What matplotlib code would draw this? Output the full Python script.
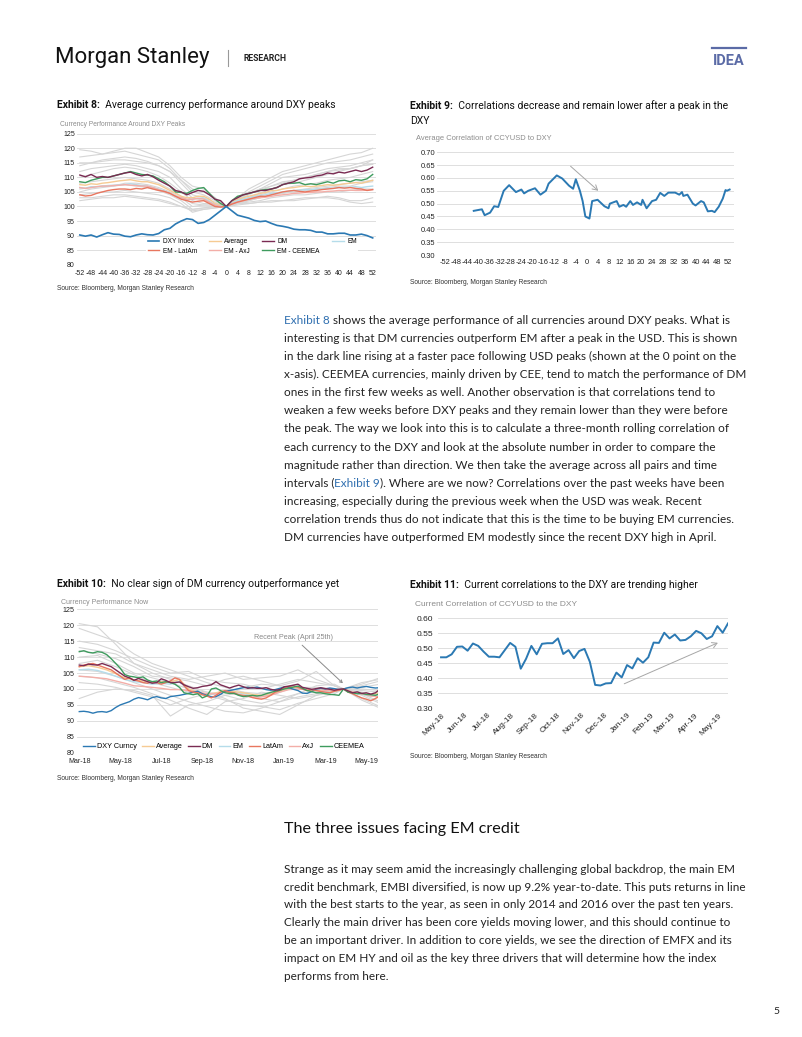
import pandas as pd
import matplotlib.pyplot as plt
from matplotlib.lines import Line2D

plt.rcParams['axes.unicode_minus'] = False

# ---------------- data ----------------
# Exhibit 8: performance around DXY peaks (weeks from peak)
wk8 = list(range(-52, 53, 2))
dxy8 = [90.2, 89.8, 90.2, 89.5, 90.3, 91.0, 90.5, 90.4, 89.8, 89.6, 90.2, 90.6, 90.3,
        90.2, 90.7, 92.0, 92.5, 94.0, 95.0, 95.8, 95.5, 94.2, 94.5, 95.5, 97.0, 98.5,
        100.0,
        98.5, 97.0, 96.5, 96.0, 95.2, 94.8, 95.0, 94.2, 93.5, 93.2, 92.8, 92.2, 92.0,
        92.0, 91.8, 91.2, 91.2, 90.6, 90.6, 90.8, 90.8, 90.2, 90.2, 90.5, 90.0, 89.2]
avg8 = [107.5, 107.3, 107.8, 107.6, 108.0, 108.2, 108.5, 108.8, 109.0, 109.2, 108.8, 108.5, 108.5,
        108.0, 107.5, 106.5, 105.5, 104.5, 103.5, 103.0, 103.0, 103.5, 103.5, 102.5, 101.0, 100.5,
        100.0,
        101.5, 102.5, 103.0, 103.5, 104.0, 104.5, 104.8, 105.5, 105.5, 106.0, 106.3, 106.5, 106.8,
        107.0, 106.8, 107.0, 107.2, 107.5, 107.3, 107.5, 107.8, 108.0, 108.2, 108.0, 108.5, 109.0]
dm8 = [110.8, 110.2, 111.0, 110.0, 110.3, 110.0, 110.5, 111.0, 111.5, 111.8, 111.0, 110.5, 111.0,
       110.2, 109.0, 108.0, 107.0, 105.5, 105.0, 104.0, 104.8, 105.5, 105.2, 104.0, 102.5, 102.0,
       100.0,
       102.0, 103.0, 104.0, 104.5, 105.0, 105.5, 105.5, 106.0, 106.5, 107.5, 108.0, 108.5, 109.5,
       109.8, 110.0, 110.5, 110.8, 111.5, 111.2, 111.8, 111.5, 112.0, 112.5, 112.0, 112.5, 113.5]
em8 = [106.5, 106.3, 106.8, 106.8, 107.0, 107.2, 107.3, 107.5, 107.5, 107.8, 107.5, 107.2, 107.0,
       106.5, 106.0, 105.3, 104.5, 103.5, 102.8, 102.3, 102.5, 102.8, 102.8, 101.8, 100.5, 100.2,
       100.0,
       101.3, 102.0, 102.5, 103.0, 103.3, 103.8, 104.0, 104.5, 104.7, 105.0, 105.2, 105.5, 105.6,
       105.8, 105.7, 106.0, 106.0, 106.3, 106.2, 106.5, 106.5, 106.6, 106.8, 106.5, 106.8, 107.0]
latam8 = [104.0, 103.6, 103.8, 104.5, 105.0, 105.5, 105.8, 106.0, 106.0, 105.8, 106.2, 106.0, 106.5,
          106.0, 105.5, 105.2, 104.5, 103.5, 102.5, 102.0, 101.5, 101.8, 102.0, 101.0, 100.0, 99.8,
          100.0,
          100.8, 101.5, 102.0, 102.5, 103.0, 103.5, 103.5, 104.0, 104.5, 105.0, 105.3, 105.5, 105.2,
          105.0, 105.3, 105.5, 105.8, 106.0, 106.2, 106.5, 106.3, 106.5, 106.2, 106.0, 105.5, 105.8]
axj8 = [106.5, 106.2, 106.5, 106.8, 107.0, 107.0, 107.2, 107.3, 107.5, 107.3, 107.2, 107.0, 107.0,
        106.5, 105.8, 105.0, 104.5, 103.5, 103.0, 102.5, 102.5, 102.8, 102.5, 101.5, 100.5, 100.0,
        100.0,
        101.0, 101.5, 102.0, 102.5, 102.8, 103.0, 103.2, 103.5, 103.8, 104.0, 104.2, 104.5, 104.6,
        104.8, 104.8, 105.0, 105.0, 105.2, 105.3, 105.5, 105.5, 105.6, 105.5, 105.5, 105.6, 105.8]
ceemea8 = [108.5, 108.2, 109.0, 109.5, 110.0, 110.0, 110.5, 111.0, 111.5, 112.0, 111.5, 111.0, 110.8,
           110.5, 109.5, 108.5, 107.0, 105.0, 104.8, 104.5, 105.5, 106.2, 106.5, 104.5, 102.5, 101.0,
           100.0,
           102.0, 103.5, 104.0, 104.5, 105.0, 105.5, 105.8, 106.0, 106.5, 107.5, 108.0, 108.0, 108.2,
           107.5, 107.8, 107.5, 108.0, 108.5, 108.0, 108.8, 109.0, 108.5, 109.2, 109.0, 109.5, 111.0]
# individual currencies (grey), every 4 weeks
wk8g = list(range(-52, 53, 4))
grey8 = [
    [119.5, 119, 118, 119, 120, 120, 118.5, 117, 114, 110, 107, 106, 103, 100, 103, 106, 108, 110, 112, 113, 114, 115, 116, 117, 118, 118.5, 120],
    [117, 117.5, 118, 118.5, 119, 118, 117, 116, 113, 109, 105, 104, 102, 100, 103, 105, 107, 109, 111, 112, 113, 114, 115, 115.5, 116, 117, 118],
    [114, 115, 116, 116.5, 117, 116.5, 115.5, 114, 112, 108, 104, 103, 101.5, 100, 102, 104, 106, 108, 110, 110.5, 111, 112, 113, 113.5, 114, 115, 116],
    [112, 113, 113.5, 114, 114.5, 114, 113, 112, 110, 106, 103, 102, 101, 100, 102.5, 104.5, 105.5, 107, 108.5, 109, 110, 111, 112, 112.5, 113, 114, 114.5],
    [110, 111, 112, 113, 113.5, 113, 112, 110.5, 108, 105, 102, 101, 101, 100, 101.5, 103, 104, 105, 106, 107, 107.5, 108, 109, 109.5, 110, 111, 112],
    [108, 108.5, 109, 109.5, 110, 109.5, 109, 108, 106, 103.5, 101, 100.5, 100.5, 100, 101, 102, 103, 104, 104.5, 105, 105.5, 106, 106.5, 107, 107, 108, 108.5],
    [106, 106.5, 107, 107, 107.5, 107, 106.5, 105.5, 104, 102, 99, 99.5, 100, 100, 101, 101.5, 102, 103, 103.5, 104, 104, 104.5, 105, 105, 105.5, 106, 106],
    [104, 104.5, 105, 105, 105.5, 105, 104.5, 104, 103, 101, 98, 99, 99.5, 100, 100.5, 101, 101.5, 102, 102, 102.5, 103, 103, 103.5, 103, 102, 102, 103],
    [103, 103, 103.5, 104, 104, 103.5, 103, 102.5, 101.5, 100, 98.5, 99, 99.5, 100, 101, 101, 101.5, 101.5, 102, 102, 102.5, 103, 103, 102.5, 101.5, 101, 101.5],
    [102, 102.5, 103, 103, 103.5, 103, 102.5, 102, 101, 100, 99, 99.5, 100, 100, 102, 103, 104.5, 106, 107.5, 108, 109, 110, 111, 112, 113, 114, 116],
    [105, 106, 106.5, 107, 108, 108, 107.5, 106.5, 105, 103, 100, 100.5, 100.5, 100, 101, 102, 103, 104, 104.5, 105.5, 106, 106.5, 107, 107.5, 108, 108.5, 109],
    [115, 115, 115.5, 116, 116, 115.5, 115, 114, 112, 109, 106, 105, 103, 100, 102, 104.5, 106, 107, 108, 109, 110, 111, 112, 113, 113, 114, 114.5],
]

# Exhibit 9: average correlation of CCYUSD to DXY
wk9 = [-41.5, -38.5, -37.5, -35.5, -34, -32.5, -30.5, -28.5, -26, -24, -23, -21.5, -19, -17, -15, -14,
       -11, -9, -6.5, -5, -4, -2.5, -1.5, -0.5, 1, 2, 4, 5, 6.5, 8, 8.5, 11, 12, 13.5, 14.5, 16, 17,
       18.5, 20, 20.5, 22, 24, 25.5, 27, 28.5, 30, 32.5, 34, 35, 35.5, 37, 39, 40, 42, 43, 44.5, 46,
       47, 48.5, 50, 51, 51.5, 52.5]
corr9 = [0.472, 0.478, 0.455, 0.465, 0.490, 0.487, 0.550, 0.572, 0.545, 0.555, 0.540, 0.550, 0.560,
         0.535, 0.550, 0.578, 0.610, 0.598, 0.570, 0.558, 0.595, 0.550, 0.510, 0.450, 0.442, 0.510,
         0.515, 0.505, 0.490, 0.482, 0.500, 0.510, 0.488, 0.495, 0.488, 0.510, 0.495, 0.505, 0.495,
         0.515, 0.482, 0.510, 0.515, 0.542, 0.530, 0.543, 0.543, 0.535, 0.545, 0.530, 0.535, 0.500,
         0.493, 0.510, 0.505, 0.470, 0.472, 0.467, 0.488, 0.520, 0.553, 0.550, 0.555]

# Exhibit 10: currency performance now (weekly, recent peak = 100)
dates10 = pd.date_range('2018-03-15', periods=67, freq='7D')
dxy10 = [92.9, 93.0, 92.8, 92.4, 92.8, 92.9, 92.7, 93.2, 94.2, 95.0,
         95.5, 96.0, 96.8, 97.3, 97.0, 96.6, 97.3, 97.6, 97.2, 97.0,
         97.6, 97.8, 98.0, 98.3, 98.6, 99.0, 99.3, 98.5, 98.0, 97.5,
         97.6, 98.3, 99.3, 99.5, 99.8, 100.1, 100.4, 100.5, 100.3, 100.6,
         100.2, 99.8, 99.6, 99.8, 100.2, 100.6, 100.4, 99.9, 99.5, 98.7,
         98.6, 99.2, 100.0, 100.2, 100.0, 100.3, 100.1, 99.8, 100.0, 100.4,
         100.6, 100.3, 100.6, 100.8, 100.5, 100.3, 100.4]
dm10 = [107.5, 107.3, 107.8, 107.6, 107.5, 108.0, 107.5, 107.0, 106.0, 105.0,
        104.0, 103.5, 102.7, 103.3, 102.8, 102.3, 101.8, 102.0, 103.2, 102.7,
        102.0, 102.0, 102.2, 101.3, 100.7, 100.2, 100.4, 100.8, 101.0, 101.3,
        102.3, 101.3, 100.8, 100.3, 100.8, 101.2, 100.7, 100.2, 100.4, 100.2,
        100.2, 100.4, 99.9, 99.6, 99.8, 100.7, 100.9, 101.2, 101.5, 100.5,
        100.2, 99.9, 100.1, 100.4, 100.1, 99.9, 99.6, 99.9, 100.0, 99.4,
        98.8, 99.1, 98.6, 98.8, 98.4, 98.8, 99.9]
latam10 = [107.0, 107.5, 107.8, 108.0, 107.5, 107.0, 106.5, 106.0, 105.0, 104.0,
           103.0, 103.5, 102.8, 102.5, 102.0, 101.8, 102.3, 102.0, 101.5, 102.0,
           102.5, 103.5, 103.0, 101.0, 99.5, 99.0, 98.8, 98.2, 97.8, 97.2,
           98.0, 99.0, 99.5, 99.0, 98.8, 98.2, 98.0, 97.8, 97.3, 97.0,
           96.8, 97.2, 98.0, 99.0, 99.5, 100.2, 100.8, 101.0, 100.5, 100.0,
           99.5, 99.8, 99.5, 99.2, 99.0, 98.8, 99.3, 99.6, 100.0, 99.0,
           98.5, 97.8, 97.2, 96.8, 96.3, 97.0, 97.8]
ceemea10 = [111.7, 112.0, 111.5, 111.3, 111.7, 111.5, 110.8, 109.5, 108.0, 106.5,
            104.5, 104.0, 103.8, 103.5, 103.8, 102.8, 102.3, 102.5, 102.0, 102.3,
            102.0, 101.5, 100.5, 98.8, 98.5, 98.2, 98.5, 97.2, 97.8, 100.0,
            100.3, 99.5, 98.8, 98.6, 98.6, 98.0, 97.6, 97.8, 98.0, 97.8,
            98.0, 98.5, 98.9, 99.3, 99.6, 100.0, 100.3, 100.6, 100.9, 100.2,
            99.5, 99.2, 98.8, 98.8, 98.5, 98.3, 98.2, 98.0, 100.0, 99.0,
            98.8, 98.5, 98.6, 98.3, 98.2, 98.0, 98.5]
idx10b = list(range(0, 67, 2))
avg10 = [107.0, 107.3, 106.8, 106.0, 104.8, 103.5, 102.8, 102.5, 102.0, 102.3, 102.2, 103.0, 100.0,
         99.0, 98.3, 98.8, 99.5, 99.2, 98.8, 98.3, 98.0, 98.5, 99.3, 100.3, 100.5, 99.6, 99.5, 99.6,
         99.3, 100.0, 99.0, 98.5, 98.2, 98.8]
em10 = [106.0, 106.2, 105.8, 105.0, 104.0, 103.0, 102.3, 102.0, 101.5, 101.8, 101.5, 102.3, 99.5,
        98.8, 98.0, 98.5, 99.2, 99.0, 98.5, 98.0, 97.8, 98.2, 99.0, 100.0, 100.3, 99.5, 99.4, 99.4,
        99.2, 100.0, 99.0, 98.3, 97.8, 98.3]
axj10 = [104.0, 103.8, 103.5, 103.2, 102.5, 101.8, 101.0, 100.8, 100.5, 100.2, 99.8, 99.8, 99.5,
         99.0, 98.5, 98.5, 99.0, 98.5, 97.8, 97.5, 97.5, 98.0, 99.0, 99.8, 100.0, 99.8, 99.7, 99.6,
         99.5, 100.0, 99.0, 98.5, 97.8, 97.5]
idx10g = [0, 4, 8, 12, 16, 20, 24, 28, 32, 36, 40, 44, 48, 52, 56, 58, 62, 66]
grey10 = [
    [120.5, 119.5, 114, 108, 105, 103, 101, 99, 98, 96.5, 95.5, 97, 98.5, 99, 99.5, 100, 97, 94.5],
    [119, 117, 115, 111, 108, 106, 104, 102, 100.5, 99, 98.5, 99.5, 100.5, 100.5, 100, 100, 98.5, 96],
    [115, 114, 112, 109.5, 107, 105, 105.5, 103, 102, 101.5, 100, 101.5, 103, 102, 101, 100, 101.5, 103.5],
    [112, 111, 109.5, 107, 104, 103.5, 102.5, 101, 103, 104, 102.5, 101, 102.5, 105.5, 101, 100, 102, 103],
    [110, 110.5, 108, 105, 103.5, 102, 100, 99, 97, 94, 93, 92, 95, 98, 99.5, 100, 99, 97.5],
    [108, 109, 107, 104.5, 102, 100.5, 99, 98, 96.5, 95, 94.5, 93.5, 95.5, 97, 98.5, 100, 96.5, 94],
    [106, 105.5, 104, 102, 100, 98, 96, 94.5, 93, 92.5, 94, 96, 97.5, 98.5, 99.5, 100, 98, 95.5],
    [104, 103.5, 102, 100.5, 98.5, 96.5, 94, 92, 96, 97, 99, 98, 97, 98, 99, 100, 99.5, 99],
    [102, 101.5, 100.5, 99, 97.5, 95, 97, 98.5, 99, 100.5, 101.5, 101, 100, 100.5, 100, 100, 101, 102.5],
    [97, 99, 100, 99.5, 98, 91.5, 95, 96, 98, 99, 97, 96, 98.5, 101, 101.5, 100, 100.5, 101.5],
    [113, 112, 111, 108, 106, 104, 103, 104, 105, 103, 103.5, 104, 106, 103, 101, 100, 100, 99.5],
]

# Exhibit 11: current correlation of CCYUSD to the DXY (weekly)
dates11 = pd.date_range('2018-05-01', periods=55, freq='7D')
corr11 = [0.470, 0.470, 0.480, 0.505, 0.506, 0.492, 0.516, 0.508, 0.489, 0.472,
          0.472, 0.470, 0.494, 0.518, 0.505, 0.432, 0.465, 0.508, 0.480, 0.515,
          0.517, 0.517, 0.533, 0.481, 0.494, 0.467, 0.491, 0.498, 0.455, 0.378,
          0.376, 0.383, 0.384, 0.419, 0.403, 0.444, 0.433, 0.467, 0.452, 0.470,
          0.519, 0.518, 0.552, 0.533, 0.546, 0.526, 0.528, 0.540, 0.558, 0.550,
          0.531, 0.540, 0.574, 0.552, 0.583]

# ---------------- look ----------------
C_DXY = '#2b79b3'
C_AVG = '#f6cb93'
C_DM = '#7a2b52'
C_EM = '#b5dcea'
C_LAT = '#e8765f'
C_AXJ = '#f3aea8'
C_CEE = '#3e9b5e'
C_GREY = '#d6d6d6'
C_GRID = '#d9d9d9'
BLUE_TXT = '#2f6fb0'
TICKFONT = 'Liberation Sans'
TITLEFONT = 'Roboto'
BODYFONT = 'Lato'

W, H = 802, 1037
fig = plt.figure(figsize=(W / 100, H / 100), dpi=100)
fig.patch.set_facecolor('white')
bg = fig.add_axes([0, 0, 1, 1], zorder=-5)
bg.set_xlim(0, W)
bg.set_ylim(H, 0)
bg.axis('off')


def box(x0, y0, x1, y1):
    return fig.add_axes([x0 / W, 1 - y1 / H, (x1 - x0) / W, (y1 - y0) / H])


def ftext(x, y, s, **kw):
    kw.setdefault('va', 'center')
    return bg.text(x, y, s, **kw)


def chain(prev, s, **kw):
    return bg.annotate(s, xy=(1, 0), xycoords=prev, va='bottom', ha='left', **kw)


def title(x, y, num, s):
    t = ftext(x, y, f'Exhibit {num}:', fontsize=7.5, weight='bold', family=TITLEFONT, color='#111')
    return chain(t, '  ' + s, fontsize=7.5, family=TITLEFONT, color='#111')


def style(ax, size):
    for s in ax.spines.values():
        s.set_visible(False)
    ax.grid(axis='y', color=C_GRID, lw=0.6)
    ax.set_axisbelow(True)
    ax.tick_params(length=0, labelsize=size, colors='#222')
    for lab in ax.get_xticklabels() + ax.get_yticklabels():
        lab.set_family(TICKFONT)


# ---------------- header ----------------
ftext(55, 58, 'Morgan Stanley', fontsize=16, family=TITLEFONT, color='#111')
bg.add_line(Line2D([228, 228], [50, 66], color='#999', lw=0.8))
ftext(243, 58.5, 'RESEARCH', fontsize=6.2, weight='bold', family=TITLEFONT, color='#222')
ftext(729, 61, 'IDEA', ha='center', fontsize=10.5, weight='bold', family=TITLEFONT, color='#5b6ba6')
bg.add_line(Line2D([712, 746], [48, 48], color='#5b6ba6', lw=1.6))

# ---------------- Exhibit 8 ----------------
title(57, 105, 8, 'Average currency performance around DXY peaks')
ftext(60, 124, 'Currency Performance Around DXY Peaks', fontsize=4.8, family=TICKFONT, color='#8c8c8c')
ax8 = box(77, 133.7, 375.5, 264.7)
for g in grey8:
    ax8.plot(wk8g, g, color=C_GREY, lw=0.8, zorder=1)
ax8.plot(wk8, avg8, color=C_AVG, lw=1.0, label='Average', zorder=2)
ax8.plot(wk8, em8, color=C_EM, lw=1.0, label='EM', zorder=2)
ax8.plot(wk8, axj8, color=C_AXJ, lw=1.0, label='EM - AxJ', zorder=2)
ax8.plot(wk8, latam8, color=C_LAT, lw=1.0, label='EM - LatAm', zorder=3)
ax8.plot(wk8, ceemea8, color=C_CEE, lw=1.0, label='EM - CEEMEA', zorder=3)
ax8.plot(wk8, dm8, color=C_DM, lw=1.0, label='DM', zorder=3)
ax8.plot(wk8, dxy8, color=C_DXY, lw=1.2, label='DXY Index', zorder=4)
ax8.set_xlim(-53, 53)
ax8.set_ylim(80, 125)
ax8.set_yticks(range(80, 126, 5))
ax8.set_xticks(range(-52, 53, 4))
style(ax8, 5)
ax8.tick_params(axis='x', pad=3.5)
ax8.tick_params(axis='y', pad=1.5)
h, l = ax8.get_legend_handles_labels()
order = ['DXY Index', 'EM - LatAm', 'Average', 'EM - AxJ', 'DM', 'EM - CEEMEA', 'EM']
leg = ax8.legend([h[l.index(k)] for k in order], order, ncol=4, loc='upper left',
                 bbox_to_anchor=(0.232, 0.215), fontsize=4.7, frameon=True, framealpha=1,
                 edgecolor='none', facecolor='white', handlelength=1.8, handletextpad=0.5,
                 columnspacing=1.9, labelspacing=0.45, borderpad=0.2, borderaxespad=0)
leg.set_zorder(10)
for t in leg.get_texts():
    t.set_family(TICKFONT)
ftext(57, 289, 'Source: Bloomberg, Morgan Stanley Research', fontsize=4.8, family=TICKFONT, color='#333')

# ---------------- Exhibit 9 ----------------
title(410, 106, 9, 'Correlations decrease and remain lower after a peak in the')
ftext(410, 121, 'DXY', fontsize=7.5, family=TITLEFONT, color='#111')
ftext(416, 138, 'Average Correlation of CCYUSD to DXY', fontsize=5.4, family=TICKFONT, color='#8c8c8c')
ax9 = box(437, 152.3, 733.7, 255)
ax9.plot(wk9, corr9, color=C_DXY, lw=1.4)
ax9.set_xlim(-55, 54)
ax9.set_ylim(0.30, 0.70)
ax9.set_yticks([0.30, 0.35, 0.40, 0.45, 0.50, 0.55, 0.60, 0.65, 0.70])
ax9.set_yticklabels([f'{v:.2f}' for v in ax9.get_yticks()])
ax9.set_xticks(range(-52, 53, 4))
style(ax9, 5.4)
ax9.tick_params(axis='x', pad=3)
ax9.tick_params(axis='y', pad=1)
ax9.annotate('', xy=(5.0, 0.543), xytext=(-6.7, 0.653),
             arrowprops=dict(arrowstyle='->,head_length=0.35,head_width=0.2', color='#a6a6a6', lw=0.7))
ftext(410, 283, 'Source: Bloomberg, Morgan Stanley Research', fontsize=4.8, family=TICKFONT, color='#333')

# ---------------- body text 1 ----------------
para1 = [
    None,
    'interesting is that DM currencies outperform EM after a peak in the USD. This is shown',
    'in the dark line rising at a faster pace following USD peaks (shown at the 0 point on the',
    'x-asis). CEEMEA currencies, mainly driven by CEE, tend to match the performance of DM',
    'ones in the first few weeks as well. Another observation is that correlations tend to',
    'weaken a few weeks before DXY peaks and they remain lower than they were before',
    'the peak. The way we look into this is to calculate a three-month rolling correlation of',
    'each currency to the DXY and look at the absolute number in order to compare the',
    'magnitude rather than direction. We then take the average across all pairs and time',
    None,
    'increasing, especially during the previous week when the USD was weak. Recent',
    'correlation trends thus do not indicate that this is the time to be buying EM currencies.',
    'DM currencies have outperformed EM modestly since the recent DXY high in April.',
]
BODY = dict(fontsize=8.45, family=BODYFONT, color='#222')
y0, dy = 320.7, 18.05
for i, line in enumerate(para1):
    y = y0 + i * dy
    if i == 0:
        t = ftext(284, y, 'Exhibit 8', **{**BODY, 'color': BLUE_TXT})
        chain(t, ' shows the average performance of all currencies around DXY peaks. What is', **BODY)
    elif i == 9:
        t = ftext(284, y, 'intervals (', **BODY)
        t = chain(t, 'Exhibit 9', **{**BODY, 'color': BLUE_TXT})
        chain(t, '). Where are we now? Correlations over the past weeks have been', **BODY)
    else:
        ftext(284, y, line, **BODY)

# ---------------- Exhibit 10 ----------------
title(57, 584, 10, 'No clear sign of DM currency outperformance yet')
ftext(61, 603, 'Currency Performance Now', fontsize=5.0, family=TICKFONT, color='#8c8c8c')
ax10 = box(77, 609.3, 378, 752.7)
for g in grey10:
    ax10.plot(dates10[idx10g], g, color=C_GREY, lw=0.8, zorder=1)
ax10.plot(dates10[idx10b], em10, color=C_EM, lw=1.0, label='EM', zorder=2)
ax10.plot(dates10[idx10b], avg10, color=C_AVG, lw=1.0, label='Average', zorder=2)
ax10.plot(dates10[idx10b], axj10, color=C_AXJ, lw=1.0, label='AxJ', zorder=2)
ax10.plot(dates10, dxy10, color=C_DXY, lw=1.0, label='DXY Curncy', zorder=2)
ax10.plot(dates10, latam10, color=C_LAT, lw=1.0, label='LatAm', zorder=3)
ax10.plot(dates10, ceemea10, color=C_CEE, lw=1.0, label='CEEMEA', zorder=3)
ax10.plot(dates10, dm10, color=C_DM, lw=1.0, label='DM', zorder=3)
ax10.set_xlim(dates10[0] - pd.Timedelta(days=3.5), dates10[0] + pd.Timedelta(days=459))
ax10.set_ylim(80, 125)
ax10.set_yticks(range(80, 126, 5))
ax10.set_xticks(dates10[::9])
ax10.set_xticklabels([d.strftime('%b-%y') for d in dates10[::9]])
style(ax10, 5.1)
ax10.tick_params(axis='x', pad=4)
ax10.tick_params(axis='y', pad=1.5)
ax10.annotate('Recent Peak (April 25th)', xy=(dates10[58] - pd.Timedelta(days=1), 101.8),
              xytext=(dates10[47], 116.3), ha='center', va='center', fontsize=5.2,
              family=TICKFONT, color='#8a8a8a',
              arrowprops=dict(arrowstyle='->,head_length=0.35,head_width=0.2', color='#8a8a8a',
                              lw=0.7, shrinkA=2, shrinkB=0))
h, l = ax10.get_legend_handles_labels()
order = ['DXY Curncy', 'Average', 'DM', 'EM', 'LatAm', 'AxJ', 'CEEMEA']
leg = ax10.legend([h[l.index(k)] for k in order], order, ncol=7, loc='center left',
                  bbox_to_anchor=(0.02, 0.04), fontsize=5.2, frameon=False, handlelength=1.6,
                  handletextpad=0.3, columnspacing=0.75, borderpad=0, borderaxespad=0)
for t in leg.get_texts():
    t.set_family(TICKFONT)
ftext(57, 779, 'Source: Bloomberg, Morgan Stanley Research', fontsize=4.8, family=TICKFONT, color='#333')

# ---------------- Exhibit 11 ----------------
title(410, 585, 11, 'Current correlations to the DXY are trending higher')
ftext(415, 604, 'Current Correlation of CCYUSD to the DXY', fontsize=6.0, family=TICKFONT, color='#8c8c8c')
ax11 = box(438, 618.3, 728, 708.3)
ax11.plot(dates11, corr11, color=C_DXY, lw=1.4)
ax11.set_xlim(dates11[0] - pd.Timedelta(days=4), dates11[-1])
ax11.set_ylim(0.30, 0.60)
ax11.set_yticks([0.30, 0.35, 0.40, 0.45, 0.50, 0.55, 0.60])
ax11.set_yticklabels([f'{v:.2f}' for v in ax11.get_yticks()])
months11 = pd.date_range('2018-05-01', '2019-05-01', freq='MS')
ax11.set_xticks(months11)
ax11.set_xticklabels([d.strftime('%b-%y') for d in months11], rotation=45, ha='right',
                     va='top', rotation_mode='anchor')
style(ax11, 6.0)
ax11.tick_params(axis='x', pad=2.5, labelsize=6.0)
ax11.tick_params(axis='y', pad=3.5)
ax11.annotate('', xy=(pd.Timestamp('2019-05-04'), 0.522), xytext=(pd.Timestamp('2018-12-25'), 0.378),
              arrowprops=dict(arrowstyle='->,head_length=0.35,head_width=0.2', color='#a6a6a6', lw=0.7))
ftext(410, 756, 'Source: Bloomberg, Morgan Stanley Research', fontsize=4.8, family=TICKFONT, color='#333')

# ---------------- section 2 ----------------
ftext(284, 829.5, 'The three issues facing EM credit', fontsize=11.6, family=BODYFONT, color='#111')
para2 = [
    'Strange as it may seem amid the increasingly challenging global backdrop, the main EM',
    'credit benchmark, EMBI diversified, is now up 9.2% year-to-date. This puts returns in line',
    'with the best starts to the year, as seen in only 2014 and 2016 over the past ten years.',
    'Clearly the main driver has been core yields moving lower, and this should continue to',
    'be an important driver. In addition to core yields, we see the direction of EMFX and its',
    'impact on EM HY and oil as the key three drivers that will determine how the index',
    'performs from here.',
]
for i, line in enumerate(para2):
    ftext(284, 869.3 + i * 17.8, line, **BODY)

ftext(773, 1012, '5', fontsize=7.5, family=BODYFONT, color='#222')

fig.savefig('out.png', dpi=100, facecolor='white')
